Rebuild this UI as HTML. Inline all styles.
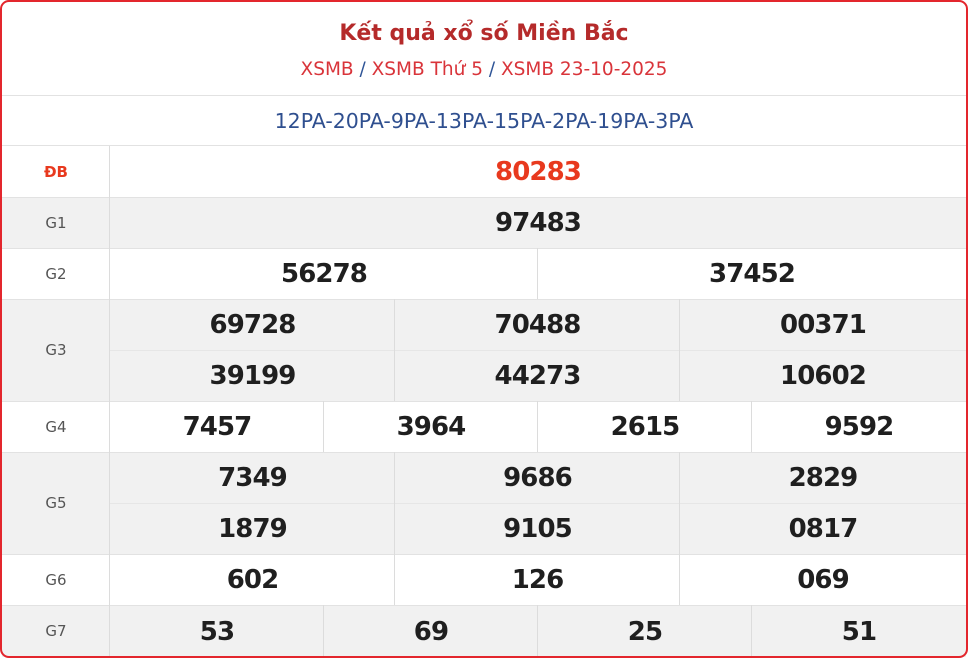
<!DOCTYPE html><html><head><meta charset="utf-8"><style>
*{margin:0;padding:0;box-sizing:border-box}
body{width:968px;height:658px;background:#fff;font-family:"DejaVu Sans","Liberation Sans",sans-serif;position:relative;overflow:hidden}
.frame{position:absolute;left:0;top:0;width:968px;height:658px;border:2px solid #e3262d;border-radius:9px;z-index:5;pointer-events:none}
.a{position:absolute;display:flex;align-items:center;justify-content:center}
.row{position:absolute;left:2px;width:964px;border-top:1px solid #e2e2e2}
.g{background:#f1f1f1}
.lab{font-size:15px;color:#555;width:108px;left:2px}
.n{font-size:26px;font-weight:bold;color:#1f1f1f;letter-spacing:-0.9px}
.vl{position:absolute;width:1px;background:#dcdcdc}
.hl{position:absolute;height:1px;background:#e6e6e6}
</style></head><body>
<div class="frame"></div>
<div class="a" style="left:0;width:968px;top:16px;height:34px;font-size:22px;font-weight:bold;color:#b52a2a">Kết quả xổ số Miền Bắc</div>
<div class="a" style="left:0;width:968px;top:56px;height:26px;font-size:18.5px;color:#d9343a;white-space:pre">XSMB<span style="color:#2f5597"> / </span>XSMB Thứ 5<span style="color:#2f5597"> / </span>XSMB 23-10-2025</div>
<div class="row" style="top:95px;height:51px"></div>
<div class="a" style="left:0;width:968px;top:107px;height:28px;font-size:20.5px;color:#2f4f8f">12PA-20PA-9PA-13PA-15PA-2PA-19PA-3PA</div>

<div class="row" style="top:145px;height:52px"></div>
<div class="row g" style="top:197px;height:51px"></div>
<div class="row" style="top:248px;height:51px"></div>
<div class="row g" style="top:299px;height:102px"></div>
<div class="row" style="top:401px;height:51px"></div>
<div class="row g" style="top:452px;height:102px"></div>
<div class="row" style="top:554px;height:51px"></div>
<div class="row g" style="top:605px;height:52px"></div>
<div class="hl" style="left:110px;width:856px;top:350px"></div>
<div class="hl" style="left:110px;width:856px;top:503px"></div>

<div class="vl" style="left:109px;top:146px;height:511px"></div>
<div class="vl" style="left:537px;top:248px;height:51px"></div>
<div class="vl" style="left:394px;top:299px;height:102px"></div>
<div class="vl" style="left:679px;top:299px;height:102px"></div>
<div class="vl" style="left:323px;top:401px;height:51px"></div>
<div class="vl" style="left:537px;top:401px;height:51px"></div>
<div class="vl" style="left:751px;top:401px;height:51px"></div>
<div class="vl" style="left:394px;top:452px;height:153px"></div>
<div class="vl" style="left:679px;top:452px;height:153px"></div>
<div class="vl" style="left:323px;top:605px;height:52px"></div>
<div class="vl" style="left:537px;top:605px;height:52px"></div>
<div class="vl" style="left:751px;top:605px;height:52px"></div>

<div class="a lab" style="top:146px;height:51px;color:#e8391e;font-weight:bold">ĐB</div>
<div class="a lab" style="top:197px;height:51px">G1</div>
<div class="a lab" style="top:248px;height:51px">G2</div>
<div class="a lab" style="top:299px;height:102px">G3</div>
<div class="a lab" style="top:401px;height:51px">G4</div>
<div class="a lab" style="top:452px;height:102px">G5</div>
<div class="a lab" style="top:554px;height:51px">G6</div>
<div class="a lab" style="top:605px;height:51px">G7</div>

<div class="a n" style="left:110px;width:856px;top:146px;height:51px;color:#e8391e">80283</div>
<div class="a n" style="left:110px;width:856px;top:197px;height:51px">97483</div>
<div class="a n" style="left:110px;width:428px;top:248px;height:51px">56278</div>
<div class="a n" style="left:538px;width:428px;top:248px;height:51px">37452</div>

<div class="a n" style="left:110px;width:285px;top:299px;height:51px">69728</div>
<div class="a n" style="left:395px;width:285px;top:299px;height:51px">70488</div>
<div class="a n" style="left:680px;width:286px;top:299px;height:51px">00371</div>
<div class="a n" style="left:110px;width:285px;top:350px;height:51px">39199</div>
<div class="a n" style="left:395px;width:285px;top:350px;height:51px">44273</div>
<div class="a n" style="left:680px;width:286px;top:350px;height:51px">10602</div>

<div class="a n" style="left:110px;width:214px;top:401px;height:51px">7457</div>
<div class="a n" style="left:324px;width:214px;top:401px;height:51px">3964</div>
<div class="a n" style="left:538px;width:214px;top:401px;height:51px">2615</div>
<div class="a n" style="left:752px;width:214px;top:401px;height:51px">9592</div>

<div class="a n" style="left:110px;width:285px;top:452px;height:51px">7349</div>
<div class="a n" style="left:395px;width:285px;top:452px;height:51px">9686</div>
<div class="a n" style="left:680px;width:286px;top:452px;height:51px">2829</div>
<div class="a n" style="left:110px;width:285px;top:503px;height:51px">1879</div>
<div class="a n" style="left:395px;width:285px;top:503px;height:51px">9105</div>
<div class="a n" style="left:680px;width:286px;top:503px;height:51px">0817</div>

<div class="a n" style="left:110px;width:285px;top:554px;height:51px">602</div>
<div class="a n" style="left:395px;width:285px;top:554px;height:51px">126</div>
<div class="a n" style="left:680px;width:286px;top:554px;height:51px">069</div>

<div class="a n" style="left:110px;width:214px;top:606px;height:51px">53</div>
<div class="a n" style="left:324px;width:214px;top:606px;height:51px">69</div>
<div class="a n" style="left:538px;width:214px;top:606px;height:51px">25</div>
<div class="a n" style="left:752px;width:214px;top:606px;height:51px">51</div>
</body></html>
